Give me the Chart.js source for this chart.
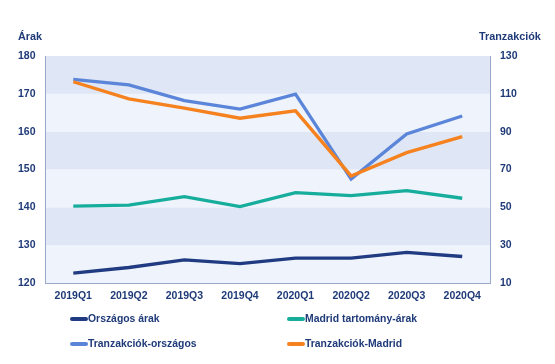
<!DOCTYPE html>
<html>
<head>
<meta charset="utf-8">
<script src="https://cdn.jsdelivr.net/npm/chart.js@4"></script>
<style>
  html, body { margin: 0; padding: 0; background: #fff; }
  #wrap { position: relative; width: 555px; height: 364px; font-family: "Liberation Sans", Arial, sans-serif; color: #1f3a78; }
  .axis-title { position: absolute; top: 29px; font-size: 10.8px; font-weight: bold; line-height: 14px; }
  .legend-item { position: absolute; font-size: 10.4px; font-weight: bold; display: flex; align-items: center; height: 14px; line-height: 14px; }
  .legend-item span.mark { display: inline-block; width: 18px; height: 3.5px; border-radius: 2px; margin-right: 0px; }
</style>
</head>
<body>
<div id="wrap">
  <canvas id="chart" width="555" height="364"></canvas>
  <div class="axis-title" style="left:18px;">Árak</div>
  <div class="axis-title" style="left:479px;">Tranzakciók</div>
  <div id="legend"></div>
</div>
<script>
document.addEventListener("DOMContentLoaded", () => {
    const $ = (id) => document.getElementById(id);

    // ---------- Data ----------
    const quarters = ["2019Q1", "2019Q2", "2019Q3", "2019Q4", "2020Q1", "2020Q2", "2020Q3", "2020Q4"];
    const orszagosArak = [122.6, 124.1, 126.1, 125.1, 126.6, 126.6, 128.1, 127.0];
    const madridArak = [140.3, 140.6, 142.8, 140.2, 143.9, 143.1, 144.4, 142.4];
    const tranzOrszagos = [117.7, 114.7, 106.4, 101.9, 109.8, 64.9, 88.8, 98.3];
    const tranzMadrid = [116.4, 107.3, 102.4, 97.1, 101.0, 66.6, 78.9, 87.4];
    const leftTicks = [120, 130, 140, 150, 160, 170, 180];
    const rightTicks = [10, 30, 50, 70, 90, 110, 130];

    const navy = '#1f3a78';
    const series = [
        { label: 'Országos árak', data: orszagosArak, color: '#203b82', axis: 'yL' },
        { label: 'Madrid tartomány-árak', data: madridArak, color: '#17ad9c', axis: 'yL' },
        { label: 'Tranzakciók-országos', data: tranzOrszagos, color: '#5b85d9', axis: 'yR' },
        { label: 'Tranzakciók-Madrid', data: tranzMadrid, color: '#f5821f', axis: 'yR' }
    ];

    // ---------- Alternating bands ----------
    const bandsPlugin = {
        id: 'bands',
        beforeDraw(chart) {
            const { ctx, chartArea } = chart;
            const y = chart.scales.yL;
            ctx.save();
            for (let i = 0; i < leftTicks.length - 1; i++) {
                const top = y.getPixelForValue(leftTicks[i + 1]);
                const bot = y.getPixelForValue(leftTicks[i]);
                ctx.fillStyle = (i % 2 === 0) ? '#eff3fb' : '#dfe6f5';
                ctx.fillRect(chartArea.left, top, chartArea.right - chartArea.left, bot - top);
            }
            ctx.restore();
        }
    };

    const tickFont = { family: '"Liberation Sans", Arial, sans-serif', size: 10.5, weight: 'bold' };

    new Chart($('chart'), {
        type: 'line',
        data: {
            labels: quarters,
            datasets: series.map((s, i) => ({
                label: s.label,
                data: s.data,
                borderColor: s.color,
                backgroundColor: s.color,
                borderWidth: 3.3,
                pointRadius: 0,
                tension: 0,
                yAxisID: s.axis,
                order: series.length - i
            }))
        },
        options: {
            responsive: false,
            animation: false,
            layout: { padding: { top: 56, left: 0, right: 0, bottom: 0 } },
            plugins: { legend: { display: false }, tooltip: { enabled: false } },
            scales: {
                x: {
                    offset: true,
                    grid: { display: false, drawTicks: false },
                    border: { color: '#9aa8cc', width: 1 },
                    ticks: { color: navy, font: tickFont, padding: 7, maxRotation: 0 },
                    afterFit: (s) => { s.height = 81; }
                },
                yL: {
                    position: 'left',
                    min: 120, max: 180,
                    grid: { display: false, drawTicks: false },
                    border: { color: '#9aa8cc', width: 1 },
                    ticks: { stepSize: 10, color: navy, font: tickFont, padding: 10 },
                    afterFit: (s) => { s.width = 45.5; }
                },
                yR: {
                    position: 'right',
                    min: 10, max: 130,
                    grid: { display: false, drawTicks: false },
                    border: { color: '#9aa8cc', width: 1 },
                    ticks: { stepSize: 20, color: navy, font: tickFont, padding: 10 },
                    afterFit: (s) => { s.width = 65; }
                }
            }
        },
        plugins: [bandsPlugin]
    });

    // ---------- Legend ----------
    const legendPos = [[70, 312], [287, 312], [70, 337], [287, 337]];
    series.forEach((s, i) => {
        const div = document.createElement('div');
        div.className = 'legend-item';
        div.style.left = legendPos[i][0] + 'px';
        div.style.top = legendPos[i][1] + 'px';
        div.innerHTML = `<span class="mark" style="background:${s.color}"></span>${s.label}`;
        $('legend').appendChild(div);
    });
});
</script>
</body>
</html>
